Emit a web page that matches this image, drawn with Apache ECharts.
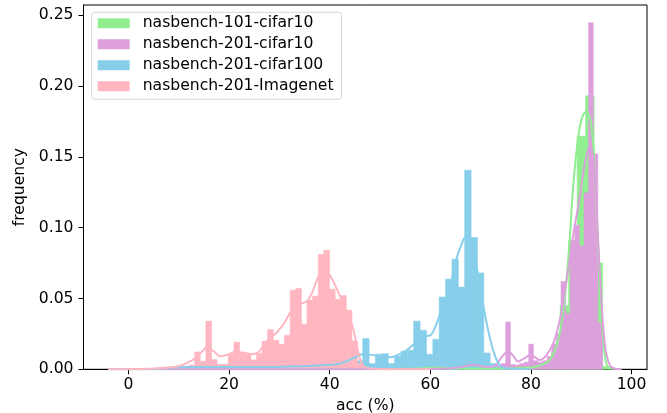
<!DOCTYPE html>
<html>
<head>
<meta charset="utf-8">
<script src="https://cdn.jsdelivr.net/npm/echarts@6/dist/echarts.min.js"></script>
<style>
  html, body { margin: 0; padding: 0; background: #fff; }
  #chart { width: 667px; height: 413px; }
</style>
</head>
<body>
<div id="chart"></div>
<script>
// series names
var names = ['nasbench-101-cifar10', 'nasbench-201-cifar10', 'nasbench-201-cifar100', 'nasbench-201-Imagenet'];
var colors = ['#90EE90', '#DDA0DD', '#87CEEB', '#FFB6C1'];

// tick labels
var xTicks = [0, 20, 40, 60, 80, 100];
var yTicks = [0, 0.05, 0.10, 0.15, 0.20, 0.25];

// histogram bins: first left edge, bin width, heights (frequency)
var n101Start = 58.77, n101Width = 1.69;
var n101Heights = [0.0005, 0.001, 0.0005, 0, 0, 0, 0.0005, 0.0005, 0.0005, 0.001, 0.0005, 0.001, 0.0015, 0.002, 0.004, 0.012, 0.045,
  0.091, 0.1645, 0.193, 0.075, 0.002];

var c10Start = 66.765, c10Width = 0.915;
var c10Heights = [0.001, 0.002, 0.003, 0.001, 0.001, 0.001, 0.002, 0.003, 0.004,
  0.0334, 0.0033, 0.003, 0.004, 0.005, 0.0177, 0.006, 0.005, 0.006, 0.009, 0.018, 0.025,
  0.062, 0.0395, 0.091, 0.1017, 0.087, 0.1245, 0.2446, 0.152, 0.033];

var c100Start = 9.82, c100Width = 1.267;
var c100Heights = [0.002, 0.002, 0.0015, 0.001, 0.001, 0.001, 0.001, 0.001, 0.001, 0.001, 0.0015, 0.001, 0.0015, 0.001, 0.0015,
  0.002, 0.0015, 0.002, 0.002, 0.0025, 0.002, 0.003, 0.0025, 0.003, 0.004, 0.004, 0.005, 0.006, 0.006,
  0.0217, 0.004, 0.0106, 0.011, 0.004, 0.0092, 0.0127, 0.0134, 0.034, 0.0275, 0.0106, 0.0212,
  0.051, 0.0636, 0.0777, 0.058, 0.1405, 0.093, 0.068, 0.0115, 0.004, 0.001];

var imgStart = 8.68, imgWidth = 1.117;
var imgHeights = [0.0005, 0.001, 0.002, 0.003, 0.0122, 0.0057, 0.034, 0.0069, 0.0035, 0.0035, 0.0106, 0.019, 0.0122,
  0.0106, 0.0066, 0.0113, 0.0198, 0.028, 0.0205, 0.0177, 0.024, 0.0558, 0.057, 0.0318, 0.0487, 0.0517,
  0.081, 0.084, 0.0565, 0.0494, 0.052, 0.0417, 0.02, 0.004, 0.001];

// kde curves [acc, density]
var n101Kde = [[-4, 0], [50, 0], [58, 0.0005], [61, 0.0012], [64, 0.0006], [70, 0.0005], [75, 0.0006], [78, 0.001],
  [80, 0.0012], [81.7, 0.0025], [83, 0.0045], [83.7, 0.0064], [84.6, 0.012], [85.4, 0.0205], [86, 0.031],
  [86.7, 0.049], [87.2, 0.068], [87.7, 0.091], [88.4, 0.129], [89.4, 0.164], [90.2, 0.178], [91, 0.1817],
  [91.7, 0.178], [92.3, 0.162], [92.7, 0.14], [93, 0.115], [93.4, 0.085], [93.7, 0.061], [94.3, 0.025],
  [95, 0.004], [96, 0.0005], [98, 0]];

var c10Kde = [[-4, 0], [55, 0], [60, 0.0003], [64, 0.0008], [66, 0.0015], [68.5, 0.0032], [70.5, 0.002], [71.8, 0.0016],
  [73, 0.003], [74.3, 0.009], [75.5, 0.0125], [76.5, 0.0095], [77.4, 0.0055], [78.6, 0.0075], [79.8, 0.0099],
  [80.8, 0.0085], [81.7, 0.0066], [83, 0.0095], [84.4, 0.018], [85.2, 0.027], [86, 0.039], [86.8, 0.057],
  [87.7, 0.077], [88.5, 0.097], [89.4, 0.115], [90.2, 0.134], [91, 0.15], [91.7, 0.157], [92.2, 0.153],
  [92.7, 0.138], [93.3, 0.096], [94, 0.049], [94.5, 0.025], [95, 0.011], [96, 0.0016], [98, 0]];

var c100Kde = [[-4, 0], [5, 0.0002], [10, 0.0015], [15, 0.0016], [25, 0.0016], [35, 0.0022], [39.4, 0.003], [42, 0.004],
  [43.5, 0.006], [45.4, 0.009], [46.5, 0.0106], [48.7, 0.01], [50.5, 0.0088], [52, 0.0085], [53.8, 0.0105],
  [55.3, 0.0134], [56.8, 0.018], [58, 0.0228], [59, 0.0235], [60, 0.024], [61, 0.03], [62, 0.0395], [63, 0.048],
  [63.9, 0.058], [65.2, 0.078], [66.2, 0.088], [66.9, 0.093], [67.7, 0.09], [68.5, 0.084], [69.2, 0.073],
  [69.8, 0.061], [70.5, 0.046], [71.2, 0.0325], [72.5, 0.0134], [73.8, 0.003], [75.5, 0.0005], [80, 0]];

var imgKde = [[-4, 0], [0, 0.0001], [5, 0.0005], [8, 0.0012], [10.3, 0.0025], [12, 0.005], [13.2, 0.0078], [14.5, 0.012],
  [15.6, 0.0155], [17, 0.0125], [18.3, 0.0092], [19.8, 0.0105], [21.2, 0.0122], [23, 0.0115], [24.5, 0.0106],
  [25.8, 0.012], [26.9, 0.017], [28, 0.022], [29.5, 0.026], [31, 0.033], [32.5, 0.042], [34, 0.046], [35.5, 0.048],
  [36.6, 0.055], [37.7, 0.065], [39, 0.071], [40.4, 0.064], [41.5, 0.056], [42.4, 0.049], [43.5, 0.04],
  [44.4, 0.032], [45.1, 0.022], [45.6, 0.013], [46.6, 0.003], [48, 0.0005], [52, 0], [60, 0]];

var FONT = 'DejaVu Sans';
var FS = 15.6;

// [left edge, right edge, height]
function toBins(start, width, heights) {
  var out = [];
  for (var i = 0; i < heights.length; i++) {
    out.push([start + i * width, start + (i + 1) * width, heights[i]]);
  }
  return out;
}

function renderBar(params, api) {
  var top = api.coord([api.value(0), api.value(2)]);
  var bottom = api.coord([api.value(1), 0]);
  var c = api.visual('color');
  return {
    type: 'rect',
    shape: { x: top[0], y: top[1], width: bottom[0] - top[0], height: bottom[1] - top[1] },
    style: { fill: c, stroke: c, lineWidth: 0.6 }
  };
}

var hist = [
  toBins(n101Start, n101Width, n101Heights),
  toBins(c10Start, c10Width, c10Heights),
  toBins(c100Start, c100Width, c100Heights),
  toBins(imgStart, imgWidth, imgHeights)
];
var kdes = [n101Kde, c10Kde, c100Kde, imgKde];

var series = [];
for (var i = 0; i < 4; i++) {
  series.push({
    name: names[i],
    type: 'custom',
    renderItem: renderBar,
    encode: { x: [0, 1], y: 2 },
    itemStyle: { color: colors[i] },
    data: hist[i],
    z: 2 + i
  });
}
for (var j = 0; j < 4; j++) {
  series.push({
    name: 'kde ' + names[j],
    type: 'line',
    data: kdes[j],
    smooth: 0.35,
    showSymbol: false,
    symbol: 'none',
    lineStyle: { color: colors[j], width: 2 },
    itemStyle: { color: colors[j] },
    z: 10 + j
  });
}

var myChart = echarts.init(document.getElementById('chart'));
var option = {
  animation: false,
  backgroundColor: '#fff',
  textStyle: { fontFamily: FONT },
  grid: {
    left: 83.5, right: 20, top: 5, bottom: 43.7,
    containLabel: false,
    outerBoundsMode: 'none',
    show: true, borderColor: '#000', borderWidth: 1, backgroundColor: 'transparent'
  },
  legend: {
    orient: 'vertical',
    left: 91.7, top: 12.3,
    padding: [3, 8, 5, 6],
    itemWidth: 32, itemHeight: 10, itemGap: 5,
    icon: 'rect',
    backgroundColor: '#fff',
    borderColor: '#d6d6d6', borderWidth: 1, borderRadius: 3,
    textStyle: { fontSize: FS, fontFamily: FONT, color: '#000', lineHeight: 15, padding: [0, 0, 0, 8] },
    data: names
  },
  xAxis: {
    type: 'value',
    min: -8.95, max: 103.08,
    name: 'acc (%)',
    nameLocation: 'middle',
    nameGap: 25,
    nameTextStyle: { fontSize: FS, color: '#000', fontFamily: FONT },
    axisLine: { show: true, onZero: false, lineStyle: { color: '#000', width: 1 } },
    axisTick: { show: true, length: 5, lineStyle: { color: '#000' }, customValues: xTicks },
    axisLabel: { fontSize: FS, color: '#000', margin: 8, customValues: xTicks, fontFamily: FONT },
    splitLine: { show: false }
  },
  yAxis: {
    type: 'value',
    min: 0, max: 0.2571,
    name: 'frequency',
    nameLocation: 'middle',
    nameGap: 53,
    nameTextStyle: { fontSize: FS, color: '#000', fontFamily: FONT },
    axisLine: { show: true, onZero: false, lineStyle: { color: '#000', width: 1 } },
    axisTick: { show: true, length: 5, lineStyle: { color: '#000' }, customValues: yTicks },
    axisLabel: {
      fontSize: FS, color: '#000', margin: 10, customValues: yTicks, fontFamily: FONT,
      formatter: function (v) { return v.toFixed(2); }
    },
    splitLine: { show: false }
  },
  series: series
};
myChart.setOption(option);
</script>
</body>
</html>
